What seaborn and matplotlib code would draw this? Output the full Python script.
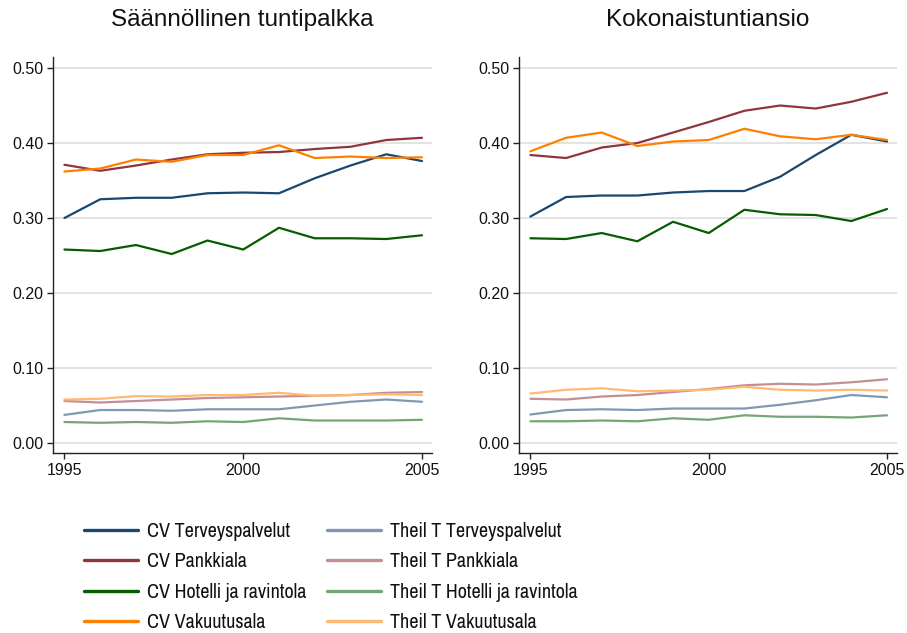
import numpy as np
import pandas as pd
import matplotlib
matplotlib.use("Agg")
import matplotlib.pyplot as plt
from matplotlib.lines import Line2D
from matplotlib import font_manager
import seaborn as sns

years = list(range(1995, 2006))

panel_titles = ["Säännöllinen tuntipalkka", "Kokonaistuntiansio"]

series_names = [
    "CV Terveyspalvelut", "CV Pankkiala", "CV Hotelli ja ravintola", "CV Vakuutusala",
    "Theil T Terveyspalvelut", "Theil T Pankkiala", "Theil T Hotelli ja ravintola", "Theil T Vakuutusala",
]

# Regular hourly wage
wage_cv_terveys = [0.300, 0.325, 0.327, 0.327, 0.333, 0.334, 0.333, 0.353, 0.370, 0.385, 0.376]
wage_cv_pankki = [0.371, 0.363, 0.370, 0.378, 0.385, 0.387, 0.388, 0.392, 0.395, 0.404, 0.407]
wage_cv_hotelli = [0.258, 0.256, 0.264, 0.252, 0.270, 0.258, 0.287, 0.273, 0.273, 0.272, 0.277]
wage_cv_vakuutus = [0.362, 0.366, 0.378, 0.375, 0.384, 0.384, 0.397, 0.380, 0.382, 0.380, 0.381]
wage_theil_terveys = [0.0375, 0.044, 0.044, 0.043, 0.045, 0.045, 0.045, 0.050, 0.055, 0.058, 0.055]
wage_theil_pankki = [0.056, 0.054, 0.056, 0.058, 0.060, 0.061, 0.062, 0.063, 0.064, 0.067, 0.068]
wage_theil_hotelli = [0.028, 0.027, 0.028, 0.027, 0.029, 0.028, 0.033, 0.030, 0.030, 0.030, 0.031]
wage_theil_vakuutus = [0.058, 0.059, 0.0625, 0.062, 0.064, 0.064, 0.067, 0.063, 0.064, 0.065, 0.064]

# Total hourly earnings
earn_cv_terveys = [0.302, 0.328, 0.330, 0.330, 0.334, 0.336, 0.336, 0.355, 0.384, 0.411, 0.402]
earn_cv_pankki = [0.384, 0.380, 0.394, 0.400, 0.414, 0.428, 0.443, 0.450, 0.446, 0.455, 0.467]
earn_cv_hotelli = [0.273, 0.272, 0.280, 0.269, 0.295, 0.280, 0.311, 0.305, 0.304, 0.296, 0.312]
earn_cv_vakuutus = [0.389, 0.407, 0.414, 0.396, 0.402, 0.404, 0.419, 0.409, 0.405, 0.411, 0.404]
earn_theil_terveys = [0.038, 0.044, 0.045, 0.044, 0.046, 0.046, 0.046, 0.051, 0.057, 0.064, 0.061]
earn_theil_pankki = [0.059, 0.058, 0.062, 0.064, 0.068, 0.072, 0.077, 0.079, 0.078, 0.081, 0.085]
earn_theil_hotelli = [0.029, 0.029, 0.030, 0.029, 0.033, 0.031, 0.037, 0.035, 0.035, 0.034, 0.037]
earn_theil_vakuutus = [0.066, 0.071, 0.073, 0.069, 0.070, 0.071, 0.075, 0.071, 0.070, 0.071, 0.070]

y_ticks = [0.0, 0.1, 0.2, 0.3, 0.4, 0.5]
x_ticks = [1995, 2000, 2005]

colors = ["#1a476f", "#90353b", "#055d00", "#ff8000",
          "#8199b0", "#c29093", "#76a673", "#ffb973"]
palette = dict(zip(series_names, colors))

panels = {
    panel_titles[0]: [wage_cv_terveys, wage_cv_pankki, wage_cv_hotelli, wage_cv_vakuutus,
                      wage_theil_terveys, wage_theil_pankki, wage_theil_hotelli, wage_theil_vakuutus],
    panel_titles[1]: [earn_cv_terveys, earn_cv_pankki, earn_cv_hotelli, earn_cv_vakuutus,
                      earn_theil_terveys, earn_theil_pankki, earn_theil_hotelli, earn_theil_vakuutus],
}

rows = []
for title, values in panels.items():
    for name, vals in zip(series_names, values):
        for yr, v in zip(years, vals):
            rows.append({"panel": title, "series": name, "year": yr, "value": v})
df = pd.DataFrame(rows)

sns.set_theme(style="white")
plt.rcParams["font.family"] = ["Liberation Sans", "DejaVu Sans"]


def _narrow_rank(f):
    """Lower is better: upright, regular-weight narrow/condensed sans faces."""
    if f.style != "normal" or "Mono" in f.name or "Serif" in f.name:
        return None
    if f.weight not in (400, "normal", "regular", "book"):
        return None
    if "Narrow" in f.name:
        return 0
    if f.stretch == "condensed" or "Condensed" in f.name:
        if "Extra" in f.name or "Ultra" in f.name or "Semi" in f.name:
            return 3
        return 1
    if f.stretch == "semi-condensed":
        return 2
    return None


ranked = [(r, f.fname) for f in font_manager.fontManager.ttflist
          if (r := _narrow_rank(f)) is not None]
ranked.sort()

if ranked:
    legend_font = font_manager.FontProperties(fname=ranked[0][1], size=14.5)
    col_space = 1.0
    row_space = 0.56
else:
    legend_font = font_manager.FontProperties(family="Liberation Sans", size=12.5)
    col_space = 1.2
    row_space = 0.5

W, H = 907, 633
fig = plt.figure(figsize=(W / 100, H / 100), dpi=100)
fig.patch.set_facecolor("white")

axes_px = [(53, 432), (519, 897)]
top_px, bottom_px = 57, 453

for (x0, x1), title in zip(axes_px, panel_titles):
    ax = fig.add_axes([x0 / W, 1 - bottom_px / H, (x1 - x0) / W, (bottom_px - top_px) / H])
    sub = df[df["panel"] == title]
    sns.lineplot(data=sub, x="year", y="value", hue="series", hue_order=series_names,
                 palette=palette, linewidth=1.6, legend=False, ax=ax)
    ax.set_xlim(1994.68, 2005.28)
    ax.set_ylim(-0.0133, 0.5147)
    ax.set_yticks(y_ticks)
    ax.set_yticklabels([f"{t:.2f}" for t in y_ticks])
    ax.set_xticks(x_ticks)
    ax.set_xticklabels([str(t) for t in x_ticks])
    ax.yaxis.grid(True, color="#e1e1e1", linewidth=1.3)
    ax.xaxis.grid(False)
    ax.set_axisbelow(True)
    ax.set_xlabel("")
    ax.set_ylabel("")
    for side in ["top", "right"]:
        ax.spines[side].set_visible(False)
    for side in ["left", "bottom"]:
        ax.spines[side].set_color("#222222")
        ax.spines[side].set_linewidth(1.0)
    ax.tick_params(axis="both", which="major", direction="out", length=4, width=1.0,
                   color="#222222", labelsize=11.5, labelcolor="#111111", pad=3,
                   left=True, bottom=True)
    ax.set_title(title, fontsize=17.5, color="#111111", pad=22)

handles = [Line2D([0], [0], color=palette[n], linewidth=2.4) for n in series_names]
fs_px = legend_font.get_size_in_points() / 0.72

fig.legend(handles, series_names, ncol=2, loc="center left",
           bbox_to_anchor=(84 / W, 1 - 577 / H), frameon=False, prop=legend_font,
           handlelength=54 / fs_px, handletextpad=9 / fs_px, labelspacing=row_space,
           columnspacing=col_space, borderpad=0, borderaxespad=0, labelcolor="#111111")

fig.savefig("out.png", dpi=100, facecolor="white")
